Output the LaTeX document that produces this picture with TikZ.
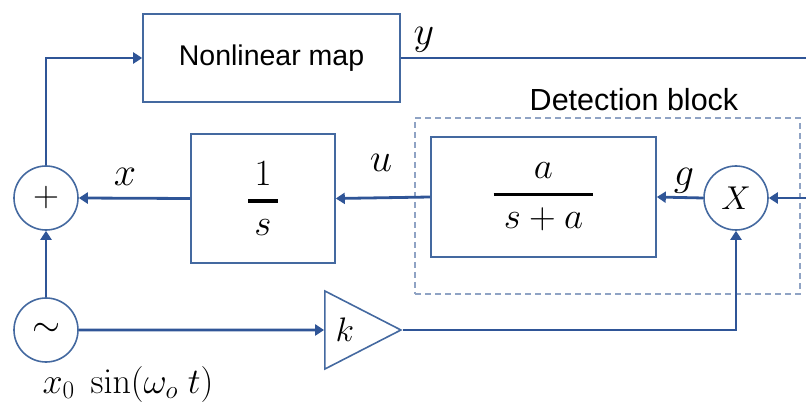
\documentclass[tikz,border=0pt]{standalone}
\usepackage{fix-cm}
\usepackage{amsmath}
\usepackage[no-math]{fontspec}
\setmainfont{Liberation Sans}
\usetikzlibrary{arrows.meta,shapes.geometric}
\definecolor{wire}{RGB}{47,85,151}
\definecolor{boxc}{RGB}{68,105,160}
\definecolor{dashc}{RGB}{143,163,196}
\tikzset{
  conn/.style={draw=wire, line width=2.8pt, -{Triangle[length=9pt,width=11pt]}},
  plainwire/.style={draw=wire, line width=2.8pt},
  blk/.style={draw=boxc, line width=1.6pt, rectangle, inner sep=0pt},
  circ/.style={draw=boxc, line width=1.6pt, circle, minimum size=64pt, inner sep=0pt, font=\fontsize{36}{42}\selectfont},
  mathlbl/.style={inner sep=0pt, font=\fontsize{40}{46}\selectfont},
  fraclbl/.style={font=\fontsize{37}{44}\selectfont},
  txtlbl/.style={inner sep=0pt, font=\fontsize{28.5}{34}\selectfont},
  detbox/.style={draw=dashc, line width=1.2pt, dash pattern=on 6pt off 4pt, rectangle, inner sep=0pt},
  ampbox/.style={draw=boxc, line width=1.6pt, isosceles triangle, isosceles triangle stretches, minimum width=78pt, minimum height=76pt, inner sep=0pt, font=\fontsize{34}{40}\selectfont}
}
\begin{document}
\begin{tikzpicture}[x=1pt,y=-1pt]
\useasboundingbox (0,0) rectangle (806,406);
% detection block
\node[detbox, minimum width=385pt, minimum height=176pt] (det) at (607.5,206) {};
\node[inner sep=0pt, font=\fontsize{30.5}{36}\selectfont] (dettext) at (634,100) {Detection block};
% blocks
\node[blk, minimum width=257pt, minimum height=88pt, txtlbl] (nl) at (271.5,58) {Nonlinear map};
\node[blk, minimum width=144pt, minimum height=129pt, fraclbl] (int) at (263,198.5) {$\genfrac{}{}{3.2pt}{0}{\,1\,}{\,s\,}$};
\node[blk, minimum width=225pt, minimum height=120pt, fraclbl] (lp) at (543.5,197) {$\genfrac{}{}{3.2pt}{0}{\;a\;}{\;s+a\;}$};
\node[circ] (sum) at (46,198) {$+$};
\node[circ, font=\fontsize{33}{40}\selectfont] (mul) at (736,198) {$X$};
\node[circ] (src) at (46,330) {$\sim$};
\node[ampbox, anchor=apex] (amp) at (403,330) {$k$};
% labels
\node[mathlbl] (ly) at (424,40) {$y$};
\node[mathlbl] (lx) at (125,177) {$x$};
\node[mathlbl] (lu) at (381,163) {$u$};
\node[mathlbl] (lg) at (684,181) {$g$};
\node[inner sep=0pt, font=\fontsize{36}{42}\selectfont] (lsrc) at (128,384) {$x_0\;\sin(\omega_o\;t)$};
% free ends
\coordinate (yout) at (806,58);
\coordinate (rin) at (806,198);
% connectors
\draw[conn] (sum.north) |- (nl.west);
\draw[plainwire] (nl.east) -- (yout);
\draw[conn] (int.west) -- (sum.east);
\draw[conn] (lp.west) -- (int.east);
\draw[conn] (mul.west) -- (lp.east);
\draw[conn] (rin) -- (mul.east);
\draw[conn] (src.north) -- (sum.south);
\draw[conn] (src.east) -- (amp.west);
\draw[conn] (amp.apex) -| (mul.south);
\end{tikzpicture}
\end{document}
